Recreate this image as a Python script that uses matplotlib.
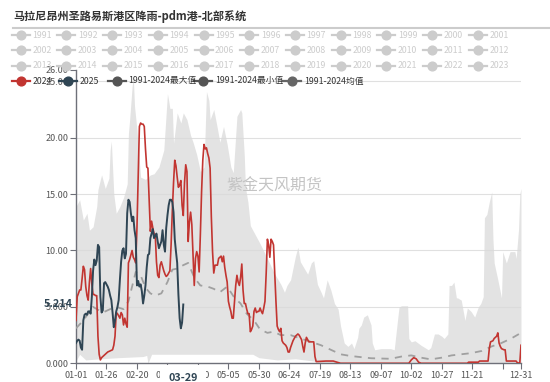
import matplotlib
matplotlib.use("Agg")
import matplotlib.pyplot as plt
from matplotlib.lines import Line2D

plt.rcParams['font.family'] = ['Noto Sans CJK SC', 'DejaVu Sans']

# ---- data (day of year, leap-year calendar: 0 = 01-01) ----
d24 = [0, 1, 2, 3, 4, 5, 6, 7, 8, 9, 10, 11, 12, 13, 14, 15, 16, 17, 18, 19, 20, 21, 22, 24, 26, 28, 30, 31,
       32, 33, 34, 35, 36, 37, 38, 39, 40, 41, 42, 43, 44, 45, 46, 47, 48, 49, 50, 51, 52, 53, 54, 55, 56,
       57, 58, 59, 60, 61, 62, 63, 64, 65, 66, 67, 68, 69, 70, 71, 72, 73, 74, 75, 76, 77, 78, 79, 80, 81,
       82, 83, 84, 85, 86, 87, 88, 89, 90, 91, 92, 93, 94, 95, 96, 97, 98, 99, 100, 101, 102, 103, 104,
       105, 106, 107, 108, 109, 110, 111, 112, 113, 114, 115, 116, 117, 118, 119, 120, 121, 122, 123, 124,
       125, 126, 127, 128, 129, 130, 131, 132, 133, 134, 135, 136, 137, 138, 139, 140, 141, 142, 143, 144,
       145, 146, 147, 148, 149, 150, 151, 152, 153, 154, 155, 156, 157, 158, 159, 160, 161, 162, 163, 164,
       165, 166, 167, 168, 169, 170, 171, 172, 173, 174, 175, 176, 177, 178, 179, 180, 181, 182, 183, 184,
       185, 186, 187, 188, 189, 190, 191, 193, 195, 196, 197, 205, 211, 214, 217, 273, 275, 277, 279, 281,
       283, 321, 322, 330, 331, 338, 339, 340, 342, 343, 345, 346, 347, 348, 349, 351, 352, 353, 361, 362,
       364, 365]
v24 = [3.8, 5.9, 6.2, 6.5, 6.5, 7.5, 8.6, 8.3, 6.8, 6.0, 5.6, 7.2, 8.4, 7.0, 6.1, 6.1, 6.0, 6.0, 2.4, 0.8,
       0.3, 0.5, 0.6, 0.8, 1.0, 1.1, 1.2, 1.6, 2.4, 4.5, 4.4, 4.2, 4.0, 4.5, 4.3, 3.4, 4.0, 3.5, 3.2, 8.9,
       9.2, 9.6, 10.0, 9.4, 9.2, 8.9, 12.0, 16.5, 21.0, 21.3, 21.2, 21.2, 21.0, 19.0, 17.4, 17.3, 14.5,
       11.7, 12.6, 12.0, 11.5, 11.4, 9.0, 7.8, 7.6, 8.7, 9.0, 8.6, 8.2, 7.9, 7.7, 7.8, 8.0, 8.2, 10.5,
       13.5, 16.0, 18.0, 17.5, 16.5, 15.6, 15.8, 16.2, 14.0, 13.1, 16.0, 17.6, 17.0, 10.8, 12.5, 13.4,
       12.3, 9.5, 6.9, 9.3, 9.9, 9.5, 8.1, 11.4, 15.2, 18.0, 19.4, 19.0, 19.1, 18.6, 18.2, 17.3, 13.0,
       9.9, 8.0, 8.7, 8.7, 8.7, 9.3, 9.4, 9.5, 9.0, 9.5, 8.5, 7.8, 7.2, 5.5, 5.0, 4.6, 4.0, 4.0, 5.5, 6.9,
       7.8, 7.2, 6.9, 7.6, 8.8, 6.5, 5.3, 5.3, 4.8, 4.4, 4.4, 2.8, 3.0, 3.3, 4.6, 4.9, 4.5, 4.6, 4.6, 4.9,
       4.6, 4.4, 4.9, 5.5, 8.0, 11.0, 10.5, 9.4, 11.0, 10.8, 10.5, 8.0, 5.5, 3.3, 3.0, 2.8, 3.1, 2.0, 1.8,
       1.7, 1.6, 1.4, 1.0, 1.0, 1.4, 1.7, 2.0, 2.2, 2.4, 2.5, 2.6, 2.5, 2.3, 2.1, 1.5, 1.0, 1.8, 2.3, 2.1,
       1.9, 1.9, 1.9, 0.6, 0.15, 0.2, 0.2, 0.1, 0.0, 0.0, 0.3, 0.5, 0.4, 0.1, 0.0, 0.0, 0.1, 0.1, 0.2, 0.2,
       1.3, 1.9, 2.0, 2.2, 2.4, 2.7, 1.8, 1.5, 1.3, 1.2, 1.2, 0.2, 0.2, 0.05, 0.0, 1.6]

d25 = list(range(0, 89))
v25 = [1.8, 2.0, 2.1, 2.0, 1.4, 1.2, 3.8, 4.3, 4.4, 4.3, 4.6, 4.6, 4.4, 5.9, 8.2, 9.2, 8.7, 9.1, 10.5, 10.3,
       5.9, 4.5, 4.7, 7.1, 7.2, 7.0, 6.8, 6.5, 6.0, 5.6, 4.5, 3.2, 3.8, 4.6, 5.0, 5.6, 7.4, 9.0, 10.0, 10.2,
       9.3, 9.7, 13.3, 14.5, 14.3, 13.3, 12.6, 13.0, 11.8, 11.1, 6.9, 7.3, 6.8, 7.0, 6.4, 5.3, 6.0, 6.9, 8.5,
       9.6, 9.7, 11.1, 11.5, 11.9, 11.1, 11.3, 11.5, 10.8, 10.2, 10.5, 10.8, 11.8, 10.5, 9.9, 12.0, 13.1,
       14.0, 14.5, 14.5, 14.3, 13.4, 11.0, 9.9, 8.9, 6.1, 4.0, 3.1, 3.6, 5.214]

d_max = [0, 3, 6, 9, 11, 14, 17, 18, 20, 21, 24, 27, 28, 29, 31, 33, 36, 39, 42, 43, 44, 46, 47, 48, 50,
         53, 57, 61, 64, 68, 72, 75, 76, 77, 79, 80, 83, 86, 88, 91, 94, 96, 99, 102, 105, 107, 109, 110,
         113, 116, 118, 121, 124, 127, 129, 132, 135, 136, 138, 139, 141, 143, 146, 151, 157, 162, 168, 171,
         173, 176, 180, 182, 184, 190, 193, 195, 198, 201, 203, 206, 209, 212, 215, 217, 220, 223, 226, 228,
         231, 232, 234, 236, 239, 242, 243, 245, 250, 258, 261, 264, 265, 267, 272, 273, 275, 278, 283, 289,
         291, 294, 297, 300, 302, 305, 306, 308, 310, 312, 313, 316, 319, 321, 324, 327, 330, 332, 334, 335,
         337, 339, 341, 342, 343, 346, 349, 350, 353, 356, 360, 361, 363, 364, 365]
v_max = [13.9, 14.5, 12.7, 13.3, 11.8, 12.1, 13.9, 15.4, 16.3, 16.7, 15.5, 16.4, 18.9, 19.7, 15.0, 13.3,
         13.9, 14.7, 15.9, 20.4, 21.6, 24.5, 25.4, 22.8, 20.7, 16.5, 16.3, 16.7, 16.8, 17.4, 18.9, 23.9,
         23.3, 22.6, 22.6, 19.5, 22.2, 21.3, 22.2, 21.6, 20.2, 19.6, 18.5, 17.0, 17.4, 24.1, 23.3, 21.6,
         22.5, 20.8, 19.6, 21.0, 19.4, 17.4, 16.9, 21.9, 22.5, 22.2, 18.5, 15.6, 14.3, 12.2, 11.6, 10.6,
         9.3, 8.1, 7.0, 6.3, 6.9, 7.4, 9.5, 10.3, 9.0, 7.9, 8.9, 9.1, 7.0, 6.3, 5.8, 7.4, 6.5, 5.3, 4.8,
         3.3, 1.8, 1.5, 1.8, 1.3, 2.3, 3.1, 3.4, 4.1, 4.3, 3.4, 1.8, 1.2, 1.3, 1.3, 1.2, 4.1, 5.0, 5.1, 5.1,
         2.2, 1.9, 2.0, 1.6, 1.2, 1.4, 2.6, 2.6, 2.4, 2.2, 2.6, 6.9, 6.9, 7.2, 5.8, 5.8, 5.6, 3.8, 4.9, 4.6,
         4.1, 5.0, 5.3, 5.9, 12.9, 13.2, 14.3, 15.2, 11.0, 8.9, 7.4, 5.8, 9.9, 8.9, 9.9, 9.9, 9.3, 11.9,
         15.0, 15.5]

d_min = [0, 3, 8, 20, 35, 55, 58, 59, 62, 145, 150, 165, 180, 195, 200, 365]
v_min = [0.2, 0.8, 0.3, 0.4, 0.5, 0.6, 0.7, 0.0, 0.8, 0.8, 0.5, 0.3, 0.4, 0.2, 0.0, 0.0]

d_mean = [0, 6, 14, 22, 28, 33, 39, 43, 46, 49, 53, 57, 61, 65, 70, 75, 79, 83, 88, 92, 97, 102, 108, 113,
          118, 124, 130, 135, 140, 146, 151, 157, 162, 168, 176, 184, 193, 201, 209, 217, 225, 242, 258, 267,
          275, 283, 291, 300, 308, 316, 324, 333, 341, 349, 357, 365]
v_mean = [3.1, 3.8, 5.0, 4.5, 4.8, 5.0, 4.8, 5.5, 6.8, 8.1, 7.8, 6.7, 6.2, 6.0, 6.2, 7.2, 8.3, 8.4, 8.7, 8.9,
          7.6, 6.9, 6.8, 6.6, 6.3, 6.8, 5.8, 5.3, 4.4, 3.8, 3.0, 2.7, 2.8, 2.5, 2.5, 2.2, 1.9, 1.6, 1.2, 0.8,
          0.65, 0.45, 0.4, 0.6, 0.7, 0.5, 0.35, 0.5, 0.7, 0.8, 0.9, 1.1, 1.5, 1.8, 2.2, 2.7]

tick_days = [0, 25, 50, 75, 100, 125, 150, 175, 200, 225, 250, 275, 300, 325, 350, 365]
tick_labels = ["01-01", "01-26", "02-20", "03-16", "04-10", "05-05", "05-30", "06-24", "07-19",
               "08-13", "09-07", "10-02", "10-27", "11-21", "", "12-31"]
y_ticks = [0, 5, 10, 15, 20, 25, 26]
y_labels = ["0.000", "5.000", "10.00", "15.00", "20.00", "25.00", "26.00"]

grey_years = [str(y) for y in range(1991, 2024)]
main_legend = ["2024", "2025", "1991-2024最大值", "1991-2024最小值", "1991-2024均值"]
main_colors = ["#c23531", "#2f4554", "#555555", "#555555", "#666666"]

title = "马拉尼昂州圣路易斯港区降雨-pdm港-北部系统"
pointer_day = "03-29"
pointer_pos = 88
pointer_val = 5.214

# ---- figure ----
W, H = 550, 382
fig = plt.figure(figsize=(W / 100, H / 100), dpi=100)
ax = fig.add_axes([76 / W, (H - 363.3) / H, 445 / W, (363.3 - 70) / H])

ax.fill_between(d_max, 0, v_max, color="#dadada", alpha=0.75, lw=0, zorder=1)
ax.fill_between(d_min, 0, v_min, color="white", lw=0, zorder=1.5)
ax.plot(d_mean, v_mean, color="#a0a0a0", lw=1.3, dashes=(4, 3.5), zorder=3)
ax.plot(d24, v24, color="#c23531", lw=1.2, zorder=4)
ax.plot(d25, v25, color="#2f4554", lw=1.4, zorder=5)

for y in [5, 10, 15, 20, 25]:
    ax.axhline(y, color="#e0e0e0", lw=0.8, zorder=0.5)

ax.set_xlim(0, 365)
ax.set_ylim(0, 26)
for s in ["top", "right"]:
    ax.spines[s].set_visible(False)
for s in ["left", "bottom"]:
    ax.spines[s].set_color("#6e7079")
    ax.spines[s].set_linewidth(1.0)
ax.set_xticks(tick_days)
ax.set_xticklabels(tick_labels)
ax.set_yticks(y_ticks)
ax.set_yticklabels(y_labels)
ax.tick_params(axis="both", colors="#6e7079", labelcolor="#555555", labelsize=6.5,
               length=4, width=0.8, pad=1.5)
ax.set_facecolor("none")

# axis pointer labels
ax.text(-2.5, pointer_val, f"{pointer_val:.3f}", ha="right", va="center", fontsize=7.8,
        fontweight="bold", color="#2f4554", clip_on=False, zorder=10)
ax.text(pointer_pos, -0.9, pointer_day, ha="center", va="top", fontsize=7.8, fontweight="bold",
        color="#2f4554", clip_on=False, zorder=10,
        bbox=dict(boxstyle="square,pad=0.75", fc="white", ec="none"))

# watermark
ax.text(0.339, 0.605, "紫金天风期货", transform=ax.transAxes, fontsize=11.5, color="#c4c4c4",
        ha="left", va="center", zorder=2)

# title
fig.text(13 / W, 1 - 16.7 / H, title, fontsize=8, fontweight="bold", color="#333333",
         ha="left", va="center")
fig.add_artist(Line2D([13 / W, 1.0], [1 - 28.3 / H] * 2, color="#cccccc", lw=1.5))


def legend_item(x, y, label, color, text_color):
    fy = 1 - y / H
    fig.add_artist(Line2D([(x - 9) / W, (x + 9) / W], [fy, fy], color=color, lw=1.6))
    fig.add_artist(Line2D([x / W], [fy], marker="o", ms=6.3, color=color, mec=color))
    fig.text((x + 11.5) / W, fy, label, fontsize=6.3, color=text_color, ha="left", va="center")


for i, lab in enumerate(grey_years):
    row, col = divmod(i, 11)
    legend_item(20.7 + col * 45.7, 35 + row * 15.4, lab, "#cccccc", "#cccccc")

main_x = [20.7, 68.3, 116.7, 203.3, 292.3]
for x, lab, c in zip(main_x, main_legend, main_colors):
    legend_item(x, 81, lab, c, "#333333")

fig.savefig("out.png", dpi=100)
